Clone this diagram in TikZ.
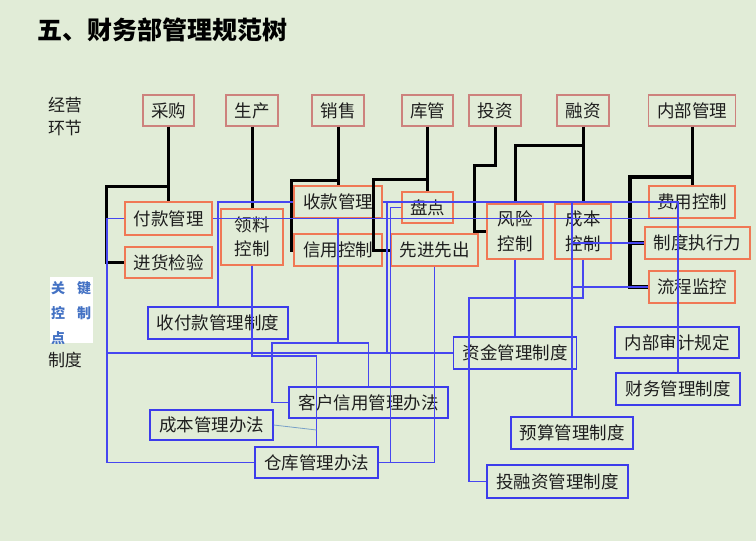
\documentclass[tikz,border=0pt]{standalone}
\usepackage{fontspec}
\setmainfont{Noto Sans CJK SC}
\definecolor{bg}{RGB}{225,236,215}
\definecolor{topc}{RGB}{205,130,125}
\definecolor{ctrc}{RGB}{240,120,85}
\definecolor{bluc}{RGB}{60,60,235}
\definecolor{blul}{RGB}{70,70,240}
\definecolor{thinl}{RGB}{120,160,200}
\definecolor{keyc}{RGB}{68,114,196}
\definecolor{txt}{RGB}{30,30,30}
\tikzset{
  box/.style={draw, line width=1.3pt, inner sep=0pt, font=\fontsize{17.5}{24.5}\selectfont, text=txt, align=center},
  topbox/.style={box, draw=topc, minimum height=31pt},
  ctrlbox/.style={box, draw=ctrc},
  rulebox/.style={box, draw=bluc},
  kline/.style={line width=3pt, black},
  bline/.style={line width=1.3pt, blul},
  lbl/.style={font=\fontsize{17}{24}\selectfont, text=txt, inner sep=0pt},
  keylbl/.style={font=\fontsize{14}{14}\selectfont\bfseries, text=keyc, inner sep=0pt}
}
\begin{document}
\begin{tikzpicture}[x=1pt,y=-1pt]
\path[fill=bg] (0,0) rectangle (756,541);
\useasboundingbox (0,0) rectangle (756,541);

% title and side labels
\node[anchor=west, inner sep=0pt, font=\fontsize{25}{25}\selectfont\bfseries, text=black] (title) at (37,30) {五、财务部管理规范树};
\node[lbl] (jy) at (65,105) {经营};
\node[lbl] (hj) at (65,128.5) {环节};
\node[lbl] (zdu) at (65,360) {制度};
\fill[white] (50,277) rectangle (93,343);
\begin{scope}
  \clip (50,277) rectangle (93,343);
  \node[keylbl] (k1) at (58,288) {关};
  \node[keylbl] (k2) at (84,288) {键};
  \node[keylbl] (k3) at (58,313) {控};
  \node[keylbl] (k4) at (84,313) {制};
  \node[keylbl] (k5) at (58,338) {点};
\end{scope}

% top level
\node[topbox, minimum width=51pt] (cg) at (168.5,110.5) {采购};
\node[topbox, minimum width=52pt] (sc) at (252,110.5) {生产};
\node[topbox, minimum width=52pt] (xs) at (338,110.5) {销售};
\node[topbox, minimum width=51pt] (kg) at (427.5,110.5) {库管};
\node[topbox, minimum width=52pt] (tz) at (495,110.5) {投资};
\node[topbox, minimum width=52pt] (rz) at (583,110.5) {融资};
\node[topbox, minimum width=87pt] (nb) at (692,110.5) {内部管理};

% control points
\node[ctrlbox, minimum width=87pt, minimum height=33pt] (fk) at (168.5,218.5) {付款管理};
\node[ctrlbox, minimum width=87pt, minimum height=31pt] (jh) at (168.5,262.5) {进货检验};
\node[ctrlbox, minimum width=62pt, minimum height=56pt] (ll) at (252,237) {领料\\控制};
\node[ctrlbox, minimum width=88pt, minimum height=32pt] (sk) at (338,202) {收款管理};
\node[ctrlbox, minimum width=88pt, minimum height=32pt] (xy) at (338,250) {信用控制};
\node[ctrlbox, minimum width=51pt, minimum height=31pt] (pd) at (427.5,207.5) {盘点};
\node[ctrlbox, minimum width=87pt, minimum height=32pt] (xj) at (434.5,250) {先进先出};
\node[ctrlbox, minimum width=56pt, minimum height=55pt] (fx) at (515,231.5) {风险\\控制};
\node[ctrlbox, minimum width=56pt, minimum height=55pt] (cb) at (583,231.5) {成本\\控制};
\node[ctrlbox, minimum width=86pt, minimum height=32pt] (fy) at (692,202) {费用控制};
\node[ctrlbox, minimum width=105pt, minimum height=32pt] (zd) at (697.5,243) {制度执行力};
\node[ctrlbox, minimum width=86pt, minimum height=32pt] (lc) at (692,287) {流程监控};

% rules
\node[rulebox, minimum width=140pt, minimum height=32pt] (sfk) at (218,323) {收付款管理制度};
\node[rulebox, minimum width=159pt, minimum height=31pt] (khxy) at (368.5,402.5) {客户信用管理办法};
\node[rulebox, minimum width=123pt, minimum height=30pt] (cbgl) at (211.5,425) {成本管理办法};
\node[rulebox, minimum width=123pt, minimum height=31pt] (ckgl) at (316.5,462.5) {仓库管理办法};
\node[rulebox, minimum width=123pt, minimum height=32pt] (zjgl) at (515,353) {资金管理制度};
\node[rulebox, minimum width=124pt, minimum height=31pt] (nbsj) at (677,342.5) {内部审计规定};
\node[rulebox, minimum width=124pt, minimum height=32pt] (cwgl) at (678,389) {财务管理制度};
\node[rulebox, minimum width=122pt, minimum height=32pt] (ysgl) at (572,433) {预算管理制度};
\node[rulebox, minimum width=141pt, minimum height=33pt] (trz) at (557.5,481.5) {投融资管理制度};

% black tree connectors
\coordinate (cgb) at (168.5,186);
\coordinate (cgl) at (106,186);
\draw[kline] (cg.south) -- (fk.north);
\draw[kline] (cgb) -- (cgl) |- (jh.west);
\draw[kline] (sc.south) -- (ll.north);
\coordinate (xsb) at (338,180);
\coordinate (xsl) at (291,180);
\draw[kline] (xs.south) -- (sk.north);
\draw[kline] (xsb) -- (xsl) |- (xy.west);
\coordinate (kgb) at (427.5,179);
\coordinate (kgl) at (373,179);
\draw[kline] (kg.south) -- (pd.north);
\draw[kline] (kgb) -- (kgl) |- (xj.west);
\coordinate (tzb) at (495,165);
\coordinate (tzl) at (474,165);
\draw[kline] (tz.south) -- (tzb) -- (tzl) |- (fx.west);
\coordinate (rzb) at (583,145);
\draw[kline] (rz.south) -- (cb.north);
\draw[kline] (rzb) -| (fx.north);
\coordinate (nbb) at (692,177);
\coordinate (nbl) at (630,177);
\draw[kline] (nb.south) -- (fy.north);
\draw[kline, line width=4pt] (nbb) -- (nbl) |- (lc.west);
\draw[kline, line width=4pt] (nbl |- zd.west) -- (zd.west);

% blue rule connectors
\draw[bline] (sk.east) -| (cwgl.north);
\draw[bline] (fk.east) -- (fk.east -| cwgl.north);
\coordinate (lx) at (107,300);
\draw[bline] (fk.west) -| (lx) |- (ckgl.west);
\draw[bline] (lx |- zjgl.west) -- (zjgl.west);
\draw[bline] (sfk.north) |- (sk.west);
\coordinate (ckt) at (316.5,356);
\draw[bline] (ll.south) |- (ckt) -- (ckgl.north);
\coordinate (ckm) at (316.5,430);
\draw[line width=0.8pt, thinl] (cbgl.east) -- (ckm);
\coordinate (khb) at (272,343);
\draw[bline] (sk.south) -- (sk.south |- khb);
\draw[bline] (khxy.north) |- (khb) |- (khxy.west);
\coordinate (c387) at (387,202);
\draw[bline] (c387) -- (c387 |- zjgl.west);
\draw[bline] (pd.west) -- ++(-11,0) |- (ckgl.east);
\draw[bline] (xj.south) |- (ckgl.east);
\draw[bline] (fx.south) -- (zjgl.north);
\coordinate (cbb) at (469,298);
\draw[bline] (cb.south) |- (cbb) |- (trz.west);
\draw[bline] (ysgl.north) -- (ysgl.north |- sk.east);
\draw[bline] (ysgl.north |- zd.west) -- (zd.west);
\draw[bline] (ysgl.north |- lc.west) -- (lc.west);
\end{tikzpicture}
\end{document}
